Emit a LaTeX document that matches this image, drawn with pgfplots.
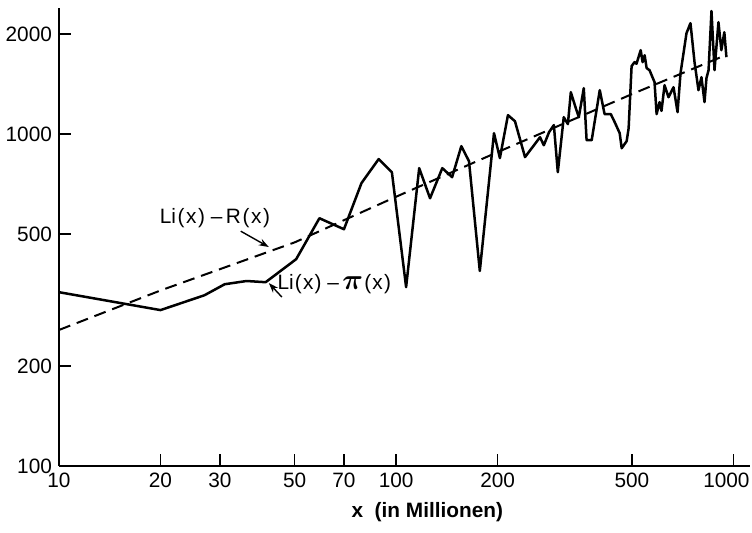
\documentclass[border=0pt]{standalone}
\usepackage{amsmath}
\usepackage{fontspec}
\setmainfont{Liberation Sans}
\usepackage{pgfplots}
\usepackage{pgfplotstable}
\pgfplotsset{compat=1.18}
\usetikzlibrary{arrows.meta}

% Li(x) - pi(x), x in millions
\pgfplotstableread{
x y
10 334
20 295
27 327
31 353
36 361
41 358
50.5 420
52.3 447
59.2 558
70 517
78.9 712
88.7 841
97.1 768
107 346
117 790
126 641
137 790
146.5 742
156 920
164.4 829
177 387
195 1007
203 847
214.5 1141
225 1094
241 853
267 979
274 926
284 1014
293.5 1065
301.5 768
314 1125
323 1072
329.5 1338
341 1197
348 1125
360 1376
367 959
380 959
401.5 1357
415 1149
433 1149
444.6 1087
460 1007
466.4 907
482.5 953
489 1042
499 1603
509 1648
516 1630
531 1791
538 1648
545.5 1729
553 1581
564 1559
583.6 1435
592 1149
604 1249
612 1175
625 1405
642 1292
664.5 1385
683 1165
697 1527
726 2015
746 2160
767 1648
788 1357
804 1485
821 1249
832 1475
844 1559
861 2350
879 1559
903 2175
921 1791
940 2029
953.5 1706
}\lipi

% Li(x) - R(x)
\pgfplotstableread{
x y
10 257
20 338
50 472
100 648
200 883
500 1320
955 1735
}\lir

\begin{document}
\begin{tikzpicture}[font=\fontsize{10.4}{12}\selectfont]
\useasboundingbox (0,0) rectangle (376pt,266pt);
\begin{axis}[
    at={(29.5pt,33pt)}, anchor=south west,
    scale only axis, width=345.5pt, height=229pt,
    xmode=log, ymode=log,
    xmin=10, xmax=1120, ymin=100, ymax=2400,
    axis x line=bottom, axis y line=left,
    axis line style={-, line width=1pt},
    xtick={10,20,30,50,70,100,200,500,1000},
    xticklabels={10,20,30,50,70,100,200,500,\hspace{-7pt}1000},
    ytick={100,200,500,1000,2000},
    yticklabels={100,200,500,1000,2000},
    minor xtick={}, minor ytick={},
    tick align=inside, major tick length=6pt,
    tick style={black, line width=0.8pt},
    xlabel={\bfseries x\ \ (in Millionen)},
    xlabel style={at={(axis description cs:0.533,0)}, anchor=center, yshift=-23pt},
]
\addplot[black, line width=1.25pt, line join=round] table[x=x, y=y] {\lipi};
\addplot[black, line width=1pt, dash pattern=on 6pt off 3.5pt] table[x=x, y=y] {\lir};

\node at (axis cs:29,558) {Li\kern0.8pt(\kern0.8pt x\kern0.8pt)\ –\,R\kern0.8pt(\kern0.8pt x\kern0.8pt)};
\draw[-{Stealth[length=5pt,width=3.5pt]}, line width=0.7pt] (axis cs:34.6,510) -- (axis cs:41.9,457);
\node at (axis cs:65.5,353) {Li\kern0.6pt(\kern0.6pt x\kern0.6pt)\ –\,{\fontsize{14}{14}\selectfont$\boldsymbol{\pi}$}\kern0.6pt(\kern0.6pt x\kern0.6pt)};
\draw[-{Stealth[length=5pt,width=3.5pt]}, line width=0.7pt] (axis cs:45.8,323) -- (axis cs:41.9,356);
\end{axis}
\end{tikzpicture}
\end{document}
